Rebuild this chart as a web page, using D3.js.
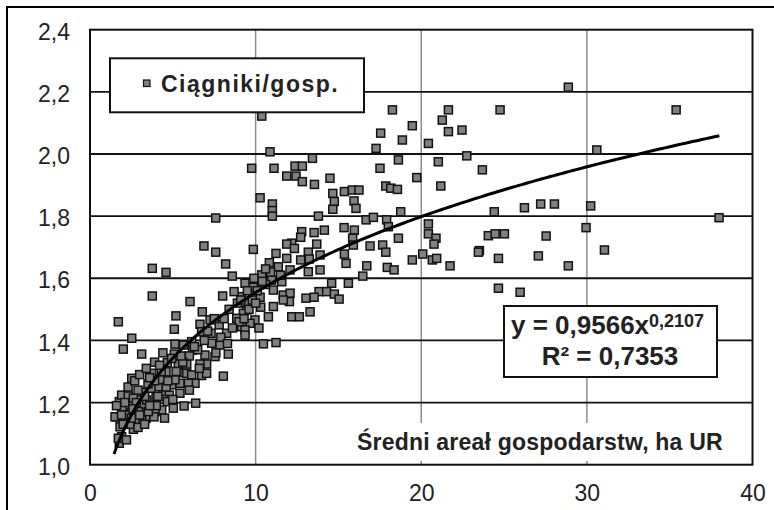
<!DOCTYPE html>
<html lang="pl">
<head>
<meta charset="utf-8">
<title>Ciągniki/gosp.</title>
<script src="https://cdn.jsdelivr.net/npm/d3@7"></script>
<style>
    html, body { margin: 0; padding: 0; background: #fff; }
    svg { display: block; font-family: "Liberation Sans", Arial, sans-serif; }
</style>
</head>
<body>
<div id="chart"></div>
<script>
// --- data: [areał ha UR, ciągniki na gospodarstwo] ---
const farms = [
    [28.88,2.215],[21.64,2.142],[24.76,2.142],[35.39,2.142],[21.27,2.109],[21.64,2.072],[22.46,2.077],
    [20.43,2.034],[30.6,2.013],[21.03,1.975],[22.75,1.994],[23.69,1.949],[21.18,1.897],[24.41,1.814],
    [26.23,1.827],[27.21,1.839],[28.04,1.839],[30.23,1.833],[37.98,1.795],[20.43,1.775],[20.43,1.743],
    [20.89,1.729],[20.77,1.71],[20.09,1.678],[20.67,1.659],[20.93,1.664],[21.74,1.64],[24.05,1.737],
    [24.46,1.743],[25.02,1.743],[27.54,1.736],[29.95,1.763],[31.06,1.691],[23.51,1.689],[23.45,1.684],
    [24.66,1.664],[27.07,1.672],[28.88,1.64],[24.66,1.568],[25.97,1.555],
    [10.37,2.122],[18.26,2.142],[19.46,2.091],[17.55,2.067],[18.86,2.045],[17.27,2.018],[10.87,2.007],
    [18.62,1.981],[13.43,1.986],[9.76,1.954],[11.11,1.954],[12.38,1.961],[12.82,1.961],[11.88,1.929],
    [12.44,1.929],[12.82,1.911],[13.55,1.902],[14.49,1.922],[17.51,1.954],[19.73,1.924],[17.86,1.897],
    [18.16,1.89],[18.56,1.886],[10.27,1.859],[11.01,1.839],[11.01,1.818],[11.01,1.8],[14.66,1.873],
    [15.36,1.879],[15.84,1.884],[16.24,1.884],[14.75,1.847],[15.94,1.849],[16.06,1.825],[14.66,1.822],
    [13.79,1.8],[16.67,1.788],[17.11,1.796],[17.91,1.788],[18.76,1.814],[12.78,1.75],[13.53,1.747],
    [14.15,1.755],[15.34,1.763],[15.96,1.755],[12.72,1.732],[18.01,1.766],[18.62,1.729],
    [15.86,1.729],[15.9,1.707],[12.18,1.713],[11.88,1.71],[13.69,1.71],[16.91,1.704],[17.67,1.707],
    [17.86,1.684],[9.86,1.693],[11.23,1.68],[12.34,1.696],[13.18,1.684],[13.89,1.675],[15.36,1.678],
    [19.46,1.659],[10.83,1.65],[11.88,1.664],[12.72,1.659],[13.24,1.662],[15.46,1.648],[16.71,1.64],
    [17.95,1.635],[18.36,1.627],[11.37,1.637],[12.08,1.627],[13.18,1.621],[13.89,1.627],[16.47,1.607],
    [15.6,1.584],[14.59,1.584],[10.37,1.611],[10.97,1.594],[11.58,1.589],[9.86,1.571],[9.36,1.584],
    [10.27,1.539],[11.07,1.562],[11.67,1.546],[12.08,1.552],[12.04,1.525],[11.67,1.53],[13.83,1.557],
    [14.29,1.557],[14.75,1.549],[15.04,1.533],[13.04,1.536],[13.53,1.539],[13.29,1.492],[12.18,1.476],
    [12.64,1.476],[11.07,1.509],[10.77,1.476],[9.96,1.466],[9.66,1.455],[10.31,1.507],[9.46,1.498],
    [9.56,1.519],[9.16,1.444],[9.36,1.434],[10.47,1.389],[11.23,1.393],[9.36,1.417],[9.16,1.541],
    [9.26,1.487],
    [7.59,1.794],[6.88,1.704],[7.59,1.684],[8.19,1.646],[3.76,1.632],[4.59,1.619],[8.59,1.607],
    [8.7,1.557],[3.76,1.543],[6.04,1.525],[8.01,1.543],[6.78,1.492],[5.19,1.479],[1.71,1.46],
    [5.09,1.436],[6.64,1.452],[2.52,1.407],[7.25,1.466],[8.86,1.471],[8.25,1.423],[7.31,1.423],
    [6.74,1.428],[2.01,1.372],[5.13,1.388],[6.14,1.396],[7.35,1.391],[7.85,1.385],
    [3.12,1.356],[2.52,1.278],[8.05,1.285],[8.35,1.356],[7.55,1.348],[7.04,1.324],[6.64,1.324],
    [5.84,1.324],[5.33,1.324],[4.67,1.328],[6.2,1.369],[6.94,1.353],[5.09,1.356],[5.64,1.385],
    [4.59,1.299],[5.33,1.296],[5.84,1.294],[6.14,1.289],[6.74,1.287],[7.04,1.294],[6.34,1.262],
    [5.94,1.262],[5.43,1.262],[4.93,1.257],[4.39,1.235],[4.13,1.251],[3.68,1.246],[3.12,1.233],
    [5.43,1.23],[4.79,1.224],[4.43,1.21],[5.68,1.189],[6.38,1.198],[3.99,1.217],[4.67,1.203],
    [5.03,1.182],[4.33,1.176],[3.93,1.171],[3.38,1.149],[3.86,1.154],[2.62,1.114],[3.12,1.144],
    [2.72,1.144],[1.77,1.203],[1.91,1.224],[2.31,1.221],[1.61,1.154],[1.81,1.122],[2.01,1.176],
    [2.42,1.192],[2.62,1.214],[3.22,1.192],[2.92,1.171],[3.52,1.171],[1.91,1.09],[1.77,1.069],
    [3.72,1.294],[4.93,1.342],[4.27,1.273],[5.13,1.273],[3.42,1.208],[1.51,1.154],[1.71,1.085],
    [7.8,1.45],[8.4,1.5],[8.9,1.52],[9.0,1.46],[8.6,1.44],[7.9,1.41],[6.9,1.4],[6.5,1.37],[6.0,1.35],
    [5.6,1.33],[4.3,1.3],[3.9,1.27],[3.5,1.26],[3.3,1.22],[2.8,1.2],[2.2,1.16],[2.4,1.13],[2.1,1.2],
    [1.9,1.16],[2.6,1.18],[4.0,1.19],[4.6,1.25],[5.2,1.3],[9.6,1.5],[9.8,1.53],[10.1,1.56],[10.6,1.58],
    [10.2,1.44],[8.3,1.39],[7.6,1.36],[9.3,1.47],[10.0,1.52],
    [2.3,1.25],[2.7,1.27],[3.0,1.29],[3.4,1.31],[3.9,1.33],[4.4,1.36],[2.9,1.24],[3.6,1.28],[4.2,1.32],
    [2.5,1.15],[3.0,1.16],[3.6,1.19],[4.1,1.22],[4.7,1.27],[5.5,1.35],[6.3,1.38],[7.1,1.43],[7.5,1.47],
    [8.1,1.47],[9.1,1.53],[9.5,1.56],[10.4,1.59],[10.9,1.62],[11.5,1.61],[10.6,1.63],[9.9,1.6],
    [1.6,1.19],[2.0,1.13],[2.2,1.08],[2.9,1.12],[3.3,1.13],[4.5,1.15],[5.0,1.21],[6.0,1.24],[6.6,1.31]
];

const xTicks = [0, 10, 20, 30, 40];
const yTicks = [1.0, 1.2, 1.4, 1.6, 1.8, 2.0, 2.2, 2.4];

// trend potęgowy z etykiety wykresu
const trendA = 0.9566;
const trendB = 0.2107;
const trendFrom = 1.45;
const trendTo = 38;

const legendLabel = "Ciągniki/gosp.";
const equationMain = "y = 0,9566x";
const equationPower = "0,2107";
const equationR2 = "R² = 0,7353";
const xAxisTitle = "Średni areał gospodarstw, ha UR";

// --- layout ---
const width = 774;
const height = 510;
const plot = { left: 90, right: 752.5, top: 29.7, bottom: 464.7 };

const pl = d3.formatLocale({ decimal: ",", thousands: " ", grouping: [3], currency: ["", " zł"] });

const svg = d3.select("#chart")
    .append("svg")
    .attr("width", width)
    .attr("height", height);

const x = d3.scaleLinear().domain([0, 40]).range([plot.left, plot.right]);
const y = d3.scaleLinear().domain([1.0, 2.4]).range([plot.bottom, plot.top]);

// outer frame of the chart (cut by the picture edge on the right and bottom)
svg.append("rect")
    .attr("x", 7).attr("y", 7)
    .attr("width", 820).attr("height", 600)
    .attr("fill", "#fff")
    .attr("stroke", "#000")
    .attr("stroke-width", 2);

// --- grid ---
svg.append("g")
    .selectAll("line")
    .data(xTicks.slice(1, -1))
    .join("line")
    .attr("x1", d => x(d)).attr("x2", d => x(d))
    .attr("y1", plot.top).attr("y2", plot.bottom)
    .attr("stroke", "#8c8c8c")
    .attr("stroke-width", 1.5);

svg.append("g")
    .selectAll("line")
    .data(yTicks.slice(1, -1))
    .join("line")
    .attr("x1", plot.left).attr("x2", plot.right)
    .attr("y1", d => y(d)).attr("y2", d => y(d))
    .attr("stroke", "#111")
    .attr("stroke-width", 1.8);

// --- axes (labels only) ---
const yAxis = d3.axisLeft(y)
    .tickValues(yTicks)
    .tickFormat(pl.format(".1f"))
    .tickSize(0)
    .tickPadding(20);

svg.append("g")
    .attr("transform", `translate(${plot.left},0)`)
    .call(yAxis)
    .call(g => g.select(".domain").remove())
    .call(g => g.selectAll("text")
        .attr("dy", "0.42em")
        .attr("font-size", 23)
        .attr("font-family", "Liberation Sans, Arial, sans-serif")
        .attr("fill", "#222"));

const xAxis = d3.axisBottom(x)
    .tickValues(xTicks)
    .tickFormat(pl.format("d"))
    .tickSize(0)
    .tickPadding(20);

svg.append("g")
    .attr("transform", `translate(0,${plot.bottom})`)
    .call(xAxis)
    .call(g => g.select(".domain").remove())
    .call(g => g.selectAll("text")
        .attr("font-size", 23)
        .attr("font-family", "Liberation Sans, Arial, sans-serif")
        .attr("fill", "#222"));

// plot frame
svg.append("rect")
    .attr("x", plot.left).attr("y", plot.top)
    .attr("width", plot.right - plot.left)
    .attr("height", plot.bottom - plot.top)
    .attr("fill", "none")
    .attr("stroke", "#111")
    .attr("stroke-width", 2);

// --- points ---
const m = 8;
svg.append("g")
    .selectAll("rect")
    .data(farms)
    .join("rect")
    .attr("x", d => x(d[0]) - m / 2)
    .attr("y", d => y(d[1]) - m / 2)
    .attr("width", m)
    .attr("height", m)
    .attr("fill", "#808080")
    .attr("stroke", "#111")
    .attr("stroke-width", 1.5);

// --- trend line ---
const trendX = d3.range(trendFrom, trendTo, 0.25).concat([trendTo]);
svg.append("path")
    .datum(trendX)
    .attr("fill", "none")
    .attr("stroke", "#000")
    .attr("stroke-width", 3)
    .attr("d", d3.line()
        .x(d => x(d))
        .y(d => y(trendA * Math.pow(d, trendB)))
        .curve(d3.curveMonotoneX));

// --- legend ---
const legend = svg.append("g");
legend.append("rect")
    .attr("x", 110).attr("y", 58.3)
    .attr("width", 254).attr("height", 54)
    .attr("fill", "#fff")
    .attr("stroke", "#111")
    .attr("stroke-width", 2);
legend.append("rect")
    .attr("x", 143.5).attr("y", 80)
    .attr("width", 6.5).attr("height", 6.5)
    .attr("fill", "#808080")
    .attr("stroke", "#111")
    .attr("stroke-width", 1.2);
legend.append("text")
    .attr("x", 161).attr("y", 92)
    .attr("font-size", 23)
    .attr("font-weight", "bold")
    .attr("letter-spacing", 1.5)
    .attr("fill", "#222")
    .text(legendLabel);

// --- equation box ---
const eq = svg.append("g");
eq.append("rect")
    .attr("x", 504).attr("y", 306)
    .attr("width", 213).attr("height", 71)
    .attr("fill", "#fff")
    .attr("stroke", "#111")
    .attr("stroke-width", 2);
const eqLine = eq.append("text")
    .attr("x", 511).attr("y", 333.5)
    .attr("font-size", 26)
    .attr("font-weight", "bold")
    .attr("fill", "#222");
eqLine.append("tspan").text(equationMain);
eqLine.append("tspan")
    .attr("dy", -7)
    .attr("font-size", 18)
    .text(equationPower);
eq.append("text")
    .attr("x", 610).attr("y", 365)
    .attr("text-anchor", "middle")
    .attr("font-size", 26)
    .attr("font-weight", "bold")
    .attr("fill", "#222")
    .text(equationR2);

// --- axis title inside plot ---
const title = svg.append("g");
title.append("rect")
    .attr("x", 350).attr("y", 423)
    .attr("width", 385).attr("height", 38)
    .attr("fill", "#fff");
title.append("text")
    .attr("x", 357).attr("y", 450)
    .attr("font-size", 23)
    .attr("font-weight", "bold")
    .attr("letter-spacing", 0.2)
    .attr("fill", "#222")
    .text(xAxisTitle);
</script>
</body>
</html>
